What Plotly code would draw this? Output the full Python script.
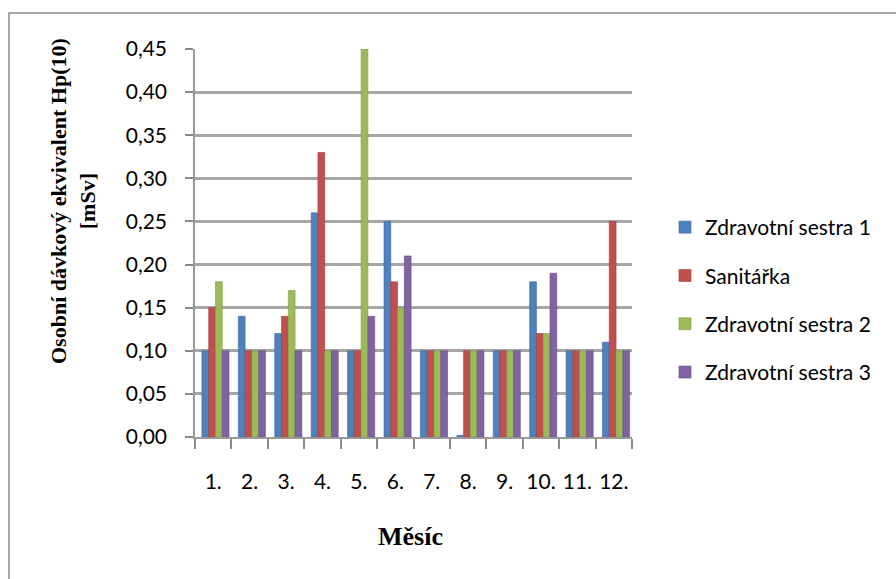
import plotly.graph_objects as go

# Monthly personal dose equivalent Hp(10) [mSv] per staff member
months = ["1.", "2.", "3.", "4.", "5.", "6.", "7.", "8.", "9.", "10.", "11.", "12."]
sestra_1 = [0.10, 0.14, 0.12, 0.26, 0.10, 0.25, 0.10, 0.002, 0.10, 0.18, 0.10, 0.11]
sanitarka = [0.15, 0.10, 0.14, 0.33, 0.10, 0.18, 0.10, 0.10, 0.10, 0.12, 0.10, 0.25]
sestra_2 = [0.18, 0.10, 0.17, 0.10, 0.45, 0.15, 0.10, 0.10, 0.10, 0.12, 0.10, 0.10]
sestra_3 = [0.10, 0.10, 0.10, 0.10, 0.14, 0.21, 0.10, 0.10, 0.10, 0.19, 0.10, 0.10]

series = [
    ("Zdravotní sestra 1", sestra_1, "#4F81BD", "#3A6A9F"),
    ("Sanitářka", sanitarka, "#C0504D", "#9E3B38"),
    ("Zdravotní sestra 2", sestra_2, "#9BBB59", "#7E9C42"),
    ("Zdravotní sestra 3", sestra_3, "#8064A2", "#654C85"),
]

# figure geometry (pixels)
W, H = 896, 579
L, R, T, B = 195, 264, 49, 142
PW, PH = W - L - R, H - T - B

def px_x(x):
    return (x - L) / PW

def px_y(y):
    return (H - B - y) / PH

bar_w = 0.186
start = -0.5 + 0.19

fig = go.Figure()
for i, (name, vals, col, edge) in enumerate(series):
    fig.add_trace(go.Bar(
        x=months, y=vals, name=name,
        marker=dict(color=col, line=dict(color=edge, width=0.6)),
        width=bar_w, offset=start + i * bar_w,
        legendgroup=name,
    ))

fig.update_layout(
    width=W, height=H,
    margin=dict(l=L, r=R, t=T, b=B, autoexpand=False),
    paper_bgcolor="white", plot_bgcolor="white",
    barmode="overlay",
    separators=", ",
    font=dict(family="Lato", size=21, color="black"),
    showlegend=True,
    legend=dict(
        x=px_x(665), y=px_y(207), xanchor="left", yanchor="top",
        font=dict(family="Lato", size=21, color="black"),
        tracegroupgap=18, itemwidth=30, bgcolor="rgba(0,0,0,0)",
    ),
    xaxis=dict(
        type="category", range=[-0.5, 11.5],
        showline=True, linecolor="#9a9a9a", linewidth=2,
        ticks="outside", tickson="boundaries", ticklen=10,
        tickcolor="#8a8a8a", tickwidth=1.5,
        showgrid=False, ticklabelstandoff=25, tickangle=0,
        tickfont=dict(family="Lato", size=21, color="black"),
        automargin=False,
    ),
    yaxis=dict(
        range=[0, 0.45], dtick=0.05, tickformat=".2f",
        showline=True, linecolor="#9a9a9a", linewidth=1.5,
        ticks="outside", ticklen=8, tickcolor="#8a8a8a", tickwidth=1.5,
        showgrid=True, gridcolor="#a6a6a6", gridwidth=2.5,
        zeroline=False, ticklabelstandoff=14,
        tickfont=dict(family="Lato", size=21, color="black"),
        automargin=False,
    ),
    shapes=[
        # chart frame
        dict(type="rect", xref="paper", yref="paper",
             x0=px_x(9), x1=px_x(905), y0=px_y(590), y1=px_y(13),
             line=dict(color="#8c8c8c", width=1.5), layer="below"),
    ],
    annotations=[
        dict(text="<b>Osobní dávkový ekvivalent Hp(10)<br>[mSv]</b>",
             xref="paper", yref="paper", x=px_x(73), y=px_y(201),
             xanchor="center", yanchor="middle", textangle=-90,
             showarrow=False,
             font=dict(family="Liberation Serif", size=22, color="black")),
        dict(text="<b>Měsíc</b>",
             xref="paper", yref="paper", x=px_x(410), y=px_y(536),
             xanchor="center", yanchor="middle", showarrow=False,
             font=dict(family="Liberation Serif", size=26, color="black")),
    ],
)

fig.write_html("out.html")
